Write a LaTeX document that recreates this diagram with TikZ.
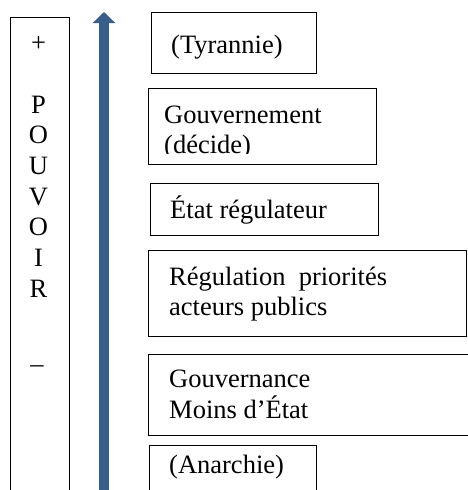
\documentclass[tikz,border=0pt]{standalone}
\usepackage{fontspec}
\setmainfont{Liberation Serif}
\usetikzlibrary{arrows.meta}
\definecolor{arrowblue}{RGB}{58,94,140}
\begin{document}
\begin{tikzpicture}[x=1pt,y=-1pt,
  box/.style={draw=black,line width=1pt,inner sep=0pt},
  txt/.style={anchor=base west,inner sep=0pt,font=\fontsize{26.5}{30.7}\selectfont},
  col/.style={anchor=base,inner sep=0pt,font=\fontsize{26.5}{30.7}\selectfont}]
\useasboundingbox (0,0) rectangle (468,490);
\fill[white] (0,0) rectangle (468,490);
% left column frame (open at bottom)
\draw[line width=1pt] (10,495) -- (10,17) -- (69,17) -- (69,495);
\node[col] (plus) at (38.5,51) {+};
\node[col] (lP) at (38.5,113) {P};
\node[col] (lO1) at (38.5,143.7) {O};
\node[col] (lU) at (38.5,174.4) {U};
\node[col] (lV) at (38.5,205) {V};
\node[col] (lO2) at (38.5,235.8) {O};
\node[col] (lI) at (38.5,266.5) {I};
\node[col] (lR) at (38.5,297.2) {R};
\node[col] (minus) at (37,372) {–};
% arrow
\coordinate (abot) at (104,495);
\coordinate (atop) at (104,12);
\draw[arrowblue,line width=10pt,-{Triangle[width=22pt,length=11pt]}] (abot) -- (atop);
% boxes
\node[box,minimum width=165,minimum height=61] (b1) at (233.5,42.5) {};
\node[box,minimum width=228,minimum height=76] (b2) at (262,126) {};
\node[box,minimum width=228,minimum height=52] (b3) at (264,209) {};
\node[box,minimum width=318,minimum height=86] (b4) at (307,293) {};
\node[box,minimum width=322,minimum height=81] (b5) at (309,394.5) {};
\node[box,minimum width=167,minimum height=52] (b6) at (232.5,471) {};
% texts
\node[txt] (t1) at (171,53) {(Tyrannie)};
\node[txt] (t2a) at (164,123) {Gouvernement};
\begin{scope}
\clip (140,130) rectangle (400,153.5);
\node[txt] (t2b) at (164,153) {(décide)};
\end{scope}
\node[txt] (t3) at (170,218) {État régulateur};
\node[txt] (t4a) at (169,285) {Régulation\ \ priorités};
\node[txt] (t4b) at (169,315) {acteurs publics};
\node[txt] (t5a) at (169,387) {Gouvernance};
\node[txt] (t5b) at (169,418) {Moins d’État};
\node[txt] (t6) at (169,473) {(Anarchie)};
\end{tikzpicture}
\end{document}
